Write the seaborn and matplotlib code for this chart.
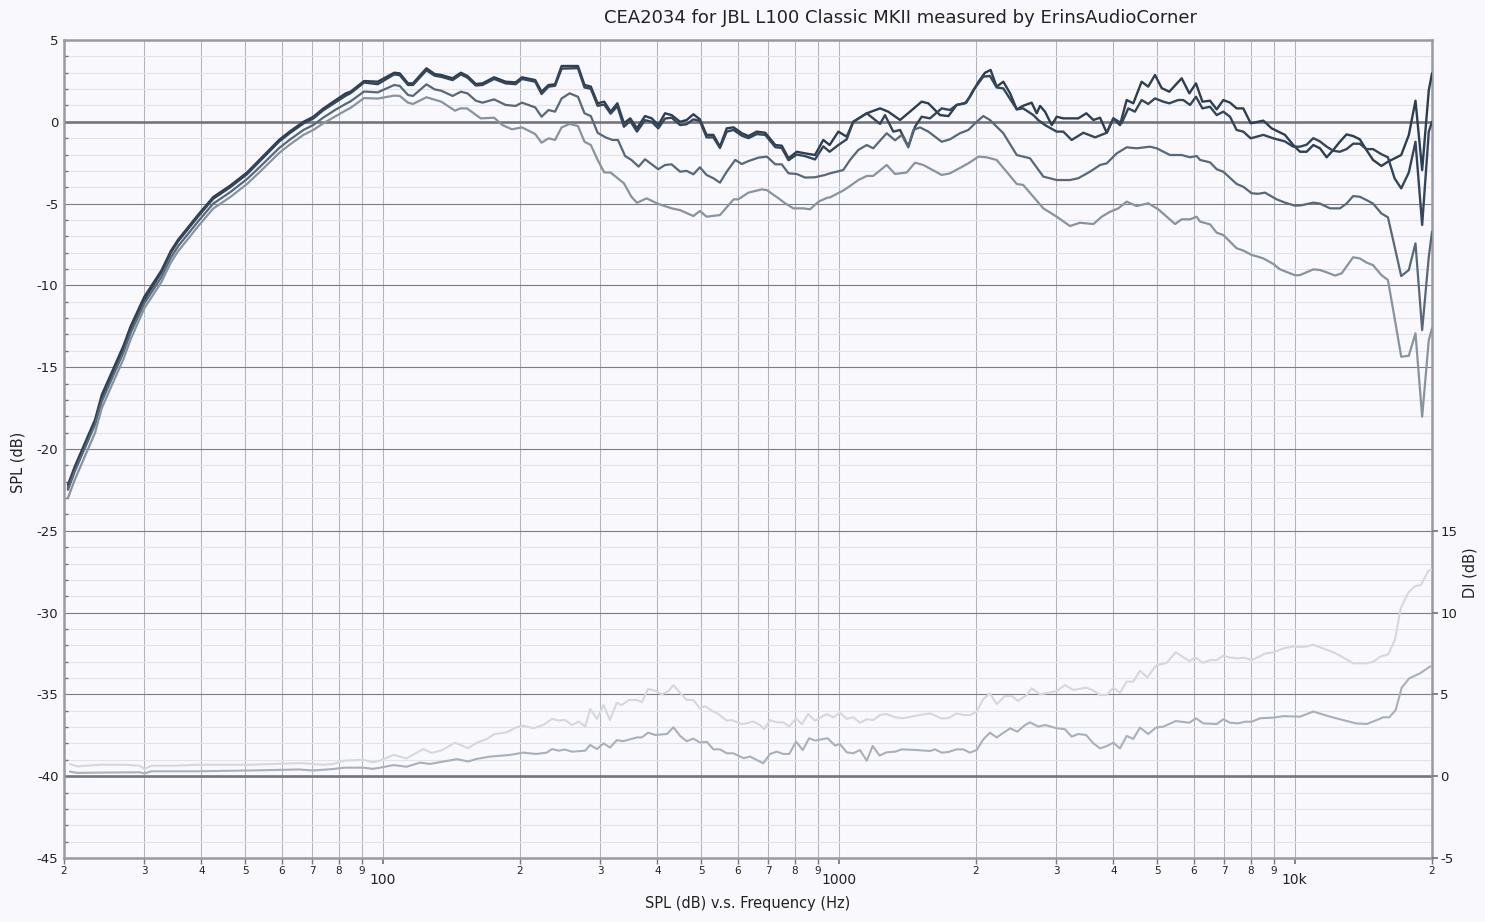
import pandas as pd
import matplotlib
matplotlib.use('Agg')
import matplotlib.pyplot as plt
import seaborn as sns
from matplotlib.ticker import FixedLocator, FixedFormatter

sns.set_theme(style='white')
plt.rcParams['font.family'] = ['DejaVu Sans']
plt.rcParams['axes.unicode_minus'] = False

# (frequency Hz, SPL dB)
on_axis = [
    (20.4, -22.2), (21.1, -21.1), (23.4, -18.2), (24.2, -16.7), (27.0, -13.7), (28.0, -12.5),
    (30.0, -10.7), (32.7, -9.1), (34.3, -7.9), (35.6, -7.2), (37.8, -6.3), (39.6, -5.6),
    (42.5, -4.6), (46.3, -3.9), (50.4, -3.1), (53.8, -2.3), (59.3, -1.1), (62.5, -0.6),
    (67.0, 0.0), (70.4, 0.3), (74.0, 0.8), (78.9, 1.33), (83.0, 1.74), (85.0, 1.84),
    (91.0, 2.49), (97.5, 2.45), (106, 3.0), (109, 2.96), (113.6, 2.35), (116.5, 2.35),
    (124.7, 3.27), (130, 2.92), (134.4, 2.86), (142.3, 2.66), (148.4, 3.0), (153.4, 2.8),
    (160, 2.31), (165.5, 2.35), (175.5, 2.72), (186, 2.45), (195.6, 2.41), (202, 2.72),
    (216, 2.55), (223, 1.84), (231, 2.25), (238.7, 2.29), (246.8, 3.41), (268, 3.41),
    (277, 2.25), (286, 2.15), (296, 1.13), (306, 1.23), (316, 0.62), (327, 1.13),
    (338, -0.09), (349, 0.21), (361, -0.4), (376, 0.35), (389, 0.21), (402, -0.2),
    (416, 0.52), (430, 0.41), (449, 0.0), (464, 0.11), (480, 0.46), (496, 0.15),
    (513, -0.8), (531, -0.8), (549, -1.52), (568, -0.4), (588, -0.34), (613, -0.7),
    (634, -0.87), (661, -0.6), (690, -0.67), (726, -1.42), (750, -1.46), (776, -2.23),
    (809, -1.83), (844, -1.93), (887, -2.03), (925, -1.11), (955, -1.42), (998, -0.6),
    (1041, -0.91), (1076, 0.0), (1152, 0.52), (1232, 0.82), (1284, 0.62), (1363, 0.11),
    (1433, 0.62), (1520, 1.23), (1572, 1.13), (1668, 0.41), (1740, 0.35), (1814, 1.03),
    (1892, 1.13), (1940, 1.53), (2025, 2.45), (2093, 3.0), (2153, 3.17), (2220, 2.15),
    (2296, 2.45), (2376, 1.74), (2457, 0.76), (2538, 0.98), (2649, 1.17), (2717, 0.52),
    (2764, 0.97), (2834, 0.62), (2932, -0.2), (3006, 0.31), (3108, 0.21), (3352, 0.21),
    (3492, 0.52), (3618, 0.11), (3742, 0.25), (3870, -0.67), (4002, 0.21), (4138, -0.2),
    (4280, 1.33), (4426, 1.13), (4616, 2.45), (4772, 2.15), (4938, 2.86), (5108, 2.06),
    (5308, 1.84), (5650, 2.66), (5874, 1.74), (6074, 2.35), (6274, 1.23), (6520, 1.29),
    (6744, 0.76), (6972, 1.33), (7212, 1.17), (7458, 0.82), (7712, 0.82), (8006, -0.09),
    (8534, 0.07), (8900, -0.4), (9520, -0.8), (9926, -1.42), (10270, -1.83), (10620, -1.83),
    (10984, -1.42), (11360, -1.62), (11750, -2.17), (12150, -1.72), (12560, -1.22),
    (12990, -0.77), (13430, -0.87), (13890, -1.07), (14360, -1.72), (14850, -2.33),
    (15490, -2.7), (16010, -2.44), (16560, -2.23), (17120, -2.03), (17790, -0.81),
    (18400, 1.29), (19030, -2.95), (19680, 1.94), (20000, 2.96),
]

listening_window = [
    (20.4, -22.4), (21.1, -21.3), (23.4, -18.4), (24.2, -16.9), (27.0, -13.9), (28.0, -12.7),
    (30.0, -10.9), (32.7, -9.2), (34.3, -8.0), (35.6, -7.3), (37.8, -6.4), (39.6, -5.7),
    (42.5, -4.7), (46.3, -4.0), (50.4, -3.2), (53.8, -2.4), (59.3, -1.2), (62.5, -0.7),
    (67.0, -0.1), (70.4, 0.2), (74.0, 0.7), (78.9, 1.2), (83.0, 1.6), (85.0, 1.75),
    (91.0, 2.4), (97.5, 2.3), (106, 2.9), (109, 2.85), (113.6, 2.25), (116.5, 2.25),
    (124.7, 3.15), (130, 2.82), (134.4, 2.75), (142.3, 2.55), (148.4, 2.9), (153.4, 2.7),
    (160, 2.22), (165.5, 2.25), (175.5, 2.62), (186, 2.35), (195.6, 2.3), (202, 2.62),
    (216, 2.45), (223, 1.7), (231, 2.15), (238.7, 2.2), (246.8, 3.25), (268, 3.28),
    (277, 2.1), (286, 2.02), (296, 0.98), (306, 1.05), (316, 0.5), (327, 0.95),
    (338, -0.3), (349, 0.05), (361, -0.6), (376, 0.1), (389, 0.0), (402, -0.4),
    (416, 0.2), (430, 0.25), (449, -0.2), (464, -0.15), (480, 0.15), (496, 0.05),
    (513, -0.95), (531, -0.95), (549, -1.6), (568, -0.6), (588, -0.5), (613, -0.85),
    (634, -1.0), (661, -0.75), (690, -0.8), (726, -1.55), (750, -1.6), (776, -2.35),
    (809, -2.0), (844, -2.1), (887, -2.3), (925, -1.5), (955, -1.83), (998, -1.42),
    (1041, -1.07), (1076, 0.0), (1152, 0.52), (1190, 0.21), (1232, -0.13), (1263, 0.41),
    (1317, -0.6), (1363, -0.5), (1421, -1.52), (1470, -0.3), (1520, 0.31), (1585, 0.21),
    (1682, 0.82), (1754, 0.72), (1814, 1.03), (1905, 1.17), (1973, 1.94), (2075, 2.76),
    (2146, 2.8), (2220, 2.1), (2296, 2.04), (2457, 0.76), (2538, 0.82), (2672, 0.41),
    (2740, 0.1), (2834, -0.2), (3006, -0.6), (3108, -0.6), (3242, -1.11), (3440, -0.67),
    (3650, -0.95), (3870, -0.67), (4002, 0.21), (4172, -0.09), (4316, 0.82), (4462, 0.62),
    (4616, 1.33), (4772, 1.09), (4938, 1.43), (5150, 1.23), (5308, 1.13), (5552, 1.33),
    (5696, 1.33), (5894, 1.03), (6074, 1.53), (6274, 0.82), (6520, 0.92), (6744, 0.41),
    (6972, 0.62), (7212, 0.31), (7458, -0.5), (7712, -0.6), (8006, -1.01), (8534, -0.8),
    (8974, -1.01), (9520, -1.2), (9926, -1.52), (10270, -1.52), (10620, -1.4),
    (10984, -1.0), (11360, -1.2), (11750, -1.52), (12150, -1.77), (12560, -1.83),
    (12990, -1.67), (13430, -1.34), (13890, -1.34), (14360, -1.67), (14850, -1.67),
    (15490, -1.98), (16010, -2.17), (16560, -3.46), (17120, -4.07), (17790, -3.1),
    (18400, -1.22), (19030, -6.3), (19680, -0.6), (20000, 0.0),
]

early_reflections = [
    (20.4, -22.5), (21.1, -21.4), (23.4, -18.5), (24.2, -17.1), (27.0, -14.1), (28.0, -12.9),
    (30.0, -11.1), (32.7, -9.5), (34.3, -8.3), (35.6, -7.6), (37.8, -6.7), (39.6, -6.0),
    (42.5, -5.0), (46.3, -4.3), (50.4, -3.5), (53.8, -2.75), (59.3, -1.6), (62.5, -1.1),
    (67.0, -0.5), (70.4, -0.2), (74.0, 0.25), (78.9, 0.75), (83.0, 1.1), (85.0, 1.25),
    (91.0, 1.85), (97.5, 1.8), (106, 2.25), (109, 2.19), (113.6, 1.64), (116.5, 1.58),
    (124.7, 2.29), (130, 1.98), (134.4, 1.9), (142.3, 1.58), (148.4, 1.84), (153.4, 1.74),
    (160, 1.29), (165.5, 1.17), (175.5, 1.37), (186, 1.03), (195.6, 0.97), (202, 1.17),
    (216, 0.88), (223, 0.31), (231, 0.72), (238.7, 0.62), (246.8, 1.43), (257, 1.74),
    (268, 1.53), (277, 0.52), (286, 0.35), (296, -0.67), (308, -0.95), (319, -1.11),
    (328, -1.11), (340, -2.09), (351, -2.33), (364, -2.74), (376, -2.29), (402, -2.9),
    (416, -2.64), (430, -2.6), (449, -3.05), (464, -3.0), (480, -3.21), (496, -2.78),
    (513, -3.25), (531, -3.45), (549, -3.72), (568, -3.05), (593, -2.33), (613, -2.58),
    (634, -2.4), (667, -2.19), (696, -2.13), (726, -2.6), (750, -2.6), (776, -3.15),
    (809, -3.19), (844, -3.41), (887, -3.39), (933, -3.25), (957, -3.15), (1023, -2.95),
    (1059, -2.33), (1104, -1.72), (1152, -1.42), (1190, -1.62), (1274, -0.7), (1329, -1.13),
    (1375, -0.8), (1421, -1.56), (1457, -0.5), (1507, -0.34), (1572, -0.6), (1682, -1.22),
    (1754, -1.07), (1844, -0.7), (1924, -0.5), (2007, 0.0), (2075, 0.35), (2146, 0.11),
    (2296, -0.7), (2457, -2.03), (2627, -2.23), (2810, -3.35), (3006, -3.56), (3214, -3.56),
    (3352, -3.45), (3556, -3.05), (3742, -2.64), (3870, -2.54), (4070, -1.93), (4280, -1.56),
    (4500, -1.62), (4814, -1.52), (4980, -1.62), (5326, -2.03), (5650, -2.03), (5894, -2.17),
    (6094, -2.09), (6198, -2.33), (6520, -2.48), (6744, -2.9), (6972, -3.05), (7458, -3.8),
    (7712, -3.97), (8046, -4.37), (8318, -4.4), (8606, -4.33), (9128, -4.74), (9520, -4.94),
    (10016, -5.13), (10356, -5.1), (10984, -4.94), (11360, -5.0), (11950, -5.29),
    (12568, -5.29), (12990, -5.0), (13430, -4.54), (13890, -4.58), (14360, -4.78),
    (14850, -5.0), (15490, -5.6), (16010, -5.84), (16560, -7.63), (17120, -9.43),
    (17790, -9.06), (18400, -7.43), (19030, -12.73), (19680, -8.25), (20000, -6.72),
]

sound_power = [
    (20.4, -23.0), (21.1, -21.9), (23.4, -19.0), (24.2, -17.5), (27.0, -14.5), (28.0, -13.3),
    (30.0, -11.4), (32.7, -9.8), (34.3, -8.6), (35.6, -7.9), (37.8, -7.0), (39.6, -6.3),
    (42.5, -5.3), (46.3, -4.6), (50.4, -3.8), (53.8, -3.05), (59.3, -1.9), (62.5, -1.4),
    (67.0, -0.8), (70.4, -0.5), (74.0, -0.1), (78.9, 0.35), (83.0, 0.7), (85.0, 0.85),
    (91.0, 1.45), (97.5, 1.42), (106, 1.6), (109, 1.58), (113.6, 1.17), (116.5, 1.09),
    (124.7, 1.5), (134.4, 1.23), (144, 0.68), (148, 0.82), (153, 0.82), (164, 0.21),
    (175.5, 0.25), (183, -0.2), (192, -0.46), (202, -0.34), (216, -0.75), (223, -1.28),
    (231, -1.01), (238.7, -1.11), (246.8, -0.34), (257, -0.13), (268, -0.26), (277, -1.22),
    (286, -1.42), (296, -2.33), (306, -3.09), (316, -3.1), (338, -3.76), (351, -4.58),
    (361, -4.95), (379, -4.68), (402, -5.02), (430, -5.29), (449, -5.4), (480, -5.76),
    (496, -5.45), (513, -5.8), (549, -5.7), (588, -4.74), (602, -4.74), (634, -4.33),
    (678, -4.13), (696, -4.18), (738, -4.68), (763, -4.98), (795, -5.29), (837, -5.29),
    (865, -5.35), (903, -4.88), (944, -4.64), (957, -4.62), (1023, -4.2), (1059, -3.92),
    (1104, -3.56), (1152, -3.31), (1190, -3.31), (1274, -2.64), (1329, -3.19), (1409, -3.1),
    (1470, -2.5), (1533, -2.64), (1682, -3.25), (1754, -3.15), (1924, -2.54), (2025, -2.13),
    (2109, -2.17), (2220, -2.33), (2457, -3.8), (2538, -3.86), (2810, -5.29), (3006, -5.8),
    (3214, -6.37), (3382, -6.17), (3618, -6.25), (3774, -5.8), (3934, -5.5), (4104, -5.29),
    (4280, -4.88), (4500, -5.15), (4772, -4.98), (5022, -5.35), (5464, -6.25), (5650, -5.96),
    (5894, -5.96), (6094, -5.8), (6198, -6.1), (6520, -6.27), (6744, -6.78), (6972, -6.92),
    (7458, -7.73), (7712, -7.87), (8046, -8.14), (8318, -8.25), (8534, -8.35), (8974, -8.69),
    (9284, -9.02), (10016, -9.38), (10270, -9.37), (10984, -9.02), (11360, -9.06),
    (11750, -9.2), (12256, -9.4), (12676, -9.26), (13430, -8.28), (13890, -8.35),
    (14360, -8.6), (14850, -8.76), (15490, -9.37), (16010, -9.67), (16560, -12.0),
    (17120, -14.36), (17790, -14.3), (18400, -12.93), (19030, -18.03), (19680, -13.34),
    (20000, -12.63),
]

# directivity index, right axis
sp_di = [
    (20.6, 0.75), (21.4, 0.6), (24.0, 0.7), (27.4, 0.7), (29.3, 0.64), (30.0, 0.44),
    (31.1, 0.64), (34.8, 0.64), (39.3, 0.7), (51.2, 0.7), (65.7, 0.8), (70.3, 0.75),
    (74.0, 0.7), (77.9, 0.75), (82.2, 0.95), (90.8, 1.0), (95.1, 0.85), (98.6, 0.95),
    (105.5, 1.3), (112.9, 1.09), (122.7, 1.66), (128, 1.42), (134.7, 1.58), (144, 2.05),
    (154, 1.71), (160.8, 2.05), (169, 2.27), (176, 2.58), (187, 2.68), (196.6, 2.99),
    (203, 3.09), (214, 2.93), (225, 3.13), (235, 3.5), (243, 3.4), (251, 3.44), (260, 3.13),
    (269, 3.34), (278, 3.03), (285, 4.11), (295, 3.5), (305, 4.35), (315, 3.44), (326, 4.49),
    (334, 4.35), (347, 4.66), (361, 4.66), (370, 4.52), (382, 5.33), (396, 5.23), (409, 5.0),
    (423, 5.2), (434, 5.57), (449, 5.09), (464, 4.66), (480, 4.66), (496, 4.15), (509, 4.28),
    (531, 3.95), (544, 3.81), (568, 3.39), (582, 3.43), (613, 3.19), (628, 3.23), (650, 3.34),
    (672, 3.13), (686, 2.87), (707, 3.43), (731, 3.29), (756, 3.29), (779, 3.03), (806, 3.54),
    (830, 3.17), (857, 3.8), (887, 3.39), (941, 3.8), (973, 3.6), (1006, 3.88), (1041, 3.5),
    (1076, 3.6), (1113, 3.27), (1152, 3.48), (1190, 3.43), (1232, 3.74), (1274, 3.8),
    (1329, 3.6), (1381, 3.54), (1480, 3.7), (1585, 3.84), (1682, 3.53), (1740, 3.55),
    (1814, 3.84), (1876, 3.74), (1940, 3.74), (2007, 3.94), (2075, 4.72), (2146, 5.06),
    (2220, 4.41), (2316, 4.9), (2396, 4.9), (2473, 4.6), (2583, 4.96), (2649, 5.37),
    (2764, 5.0), (2882, 5.1), (3006, 5.2), (3134, 5.57), (3268, 5.27), (3492, 5.41),
    (3618, 5.23), (3742, 4.96), (3870, 4.96), (4002, 5.41), (4138, 5.1), (4280, 5.78),
    (4426, 5.78), (4577, 6.45), (4750, 6.04), (4962, 6.76), (5238, 6.93), (5482, 7.57),
    (5680, 7.3), (5874, 7.04), (6046, 7.25), (6302, 6.93), (6520, 7.1), (6744, 7.1),
    (6972, 7.37), (7212, 7.25), (7520, 7.2), (7740, 7.25), (8046, 7.1), (8390, 7.33),
    (8606, 7.5), (8974, 7.57), (9440, 7.81), (9926, 7.93), (10270, 7.89), (10624, 7.93),
    (10984, 8.03), (11552, 7.81), (12152, 7.57), (12568, 7.37), (13442, 6.9), (14386, 6.9),
    (14874, 7.0), (15382, 7.3), (16042, 7.45), (16594, 8.37), (17078, 10.26), (17744, 11.22),
    (18356, 11.62), (18910, 11.68), (19630, 12.56), (19950, 12.6),
]

er_di = [
    (20.6, 0.28), (21.4, 0.2), (24.0, 0.22), (29.3, 0.24), (30.0, 0.17), (31.1, 0.3),
    (39.3, 0.3), (51.2, 0.35), (65.7, 0.41), (70.3, 0.35), (77.9, 0.44), (82.2, 0.52),
    (90.8, 0.52), (95.1, 0.45), (98.6, 0.52), (105.5, 0.68), (112.9, 0.58), (120.7, 0.83),
    (127, 0.75), (136, 0.9), (145.5, 1.04), (154, 0.9), (160.8, 1.06), (172, 1.2), (190, 1.3),
    (203, 1.44), (217, 1.36), (229, 1.44), (235, 1.66), (243, 1.56), (251, 1.63), (260, 1.5),
    (278, 1.56), (285, 1.91), (295, 1.66), (305, 2.01), (315, 1.75), (326, 2.2), (337, 2.14),
    (361, 2.37), (370, 2.37), (382, 2.66), (396, 2.52), (420, 2.58), (434, 2.99), (449, 2.46),
    (464, 2.14), (480, 2.3), (496, 2.06), (514, 2.1), (531, 1.64), (549, 1.64), (568, 1.4),
    (587, 1.4), (619, 1.1), (639, 1.2), (683, 0.79), (707, 1.36), (731, 1.5), (756, 1.36),
    (779, 1.36), (806, 2.11), (834, 1.6), (861, 2.32), (887, 2.18), (945, 2.32), (982, 1.87),
    (1006, 1.97), (1041, 1.46), (1076, 1.4), (1113, 1.6), (1152, 0.95), (1187, 1.85),
    (1229, 1.26), (1274, 1.46), (1329, 1.5), (1375, 1.64), (1480, 1.6), (1585, 1.54),
    (1626, 1.64), (1682, 1.44), (1740, 1.48), (1814, 1.64), (1876, 1.64), (1940, 1.44),
    (2007, 1.6), (2075, 2.25), (2146, 2.66), (2220, 2.37), (2376, 2.93), (2464, 2.72),
    (2562, 3.13), (2627, 3.29), (2740, 3.03), (2834, 3.13), (3006, 2.93), (3134, 2.87),
    (3242, 2.42), (3352, 2.58), (3486, 2.52), (3618, 2.01), (3742, 1.7), (3870, 1.84),
    (4002, 2.05), (4138, 1.7), (4280, 2.46), (4426, 2.28), (4577, 2.97), (4772, 2.58),
    (4962, 2.97), (5150, 3.03), (5482, 3.37), (5874, 3.27), (6074, 3.54), (6302, 3.23),
    (6744, 3.19), (6972, 3.48), (7212, 3.27), (7520, 3.23), (7780, 3.33), (8046, 3.33),
    (8390, 3.54), (8974, 3.58), (9440, 3.67), (10270, 3.64), (10984, 3.95), (11950, 3.64),
    (12780, 3.43), (13610, 3.23), (14386, 3.19), (15130, 3.43), (15630, 3.6), (16120, 3.6),
    (16650, 4.05), (17160, 5.41), (17830, 5.98), (18826, 6.29), (19800, 6.7), (19950, 6.74),
]

title = 'CEA2034 for JBL L100 Classic MKII measured by ErinsAudioCorner'
decade_ticks = [100, 1000, 10000]
decade_labels = ['100', '1000', '10k']
minor_ticks = [m * d for d in (10, 100, 1000) for m in range(2, 10)] + [20000]
minor_labels = [str(t)[0] for t in minor_ticks]

BG = '#f8f8fd'
W, H = 1485, 922

fig = plt.figure(figsize=(W / 100, H / 100), dpi=100, facecolor=BG)
ax = fig.add_axes([64 / W, 1 - 858 / H, (1432 - 64) / W, (858 - 40) / H])
ax.set_facecolor(BG)
ax.set_xscale('log')

spl_curves = [
    (on_axis, '#2d3e50', 1.7),
    (listening_window, '#34465a', 1.7),
    (early_reflections, '#56687a', 1.6),
    (sound_power, '#87949f', 1.6),
]
for pts, col, lw in spl_curves:
    d = pd.DataFrame(pts, columns=['Frequency', 'SPL'])
    sns.lineplot(data=d, x='Frequency', y='SPL', ax=ax, color=col, lw=lw,
                 estimator=None, zorder=3)

ax.set_xlim(20, 20000)
ax.set_ylim(-45, 5)

# x ticks: decades bigger and lower, the rest single digits
ax.xaxis.set_major_locator(FixedLocator(decade_ticks))
ax.xaxis.set_major_formatter(FixedFormatter(decade_labels))
ax.xaxis.set_minor_locator(FixedLocator(minor_ticks))
ax.xaxis.set_minor_formatter(FixedFormatter(minor_labels))
ax.tick_params(axis='x', which='major', labelsize=10, length=4, pad=7,
               color='#777', labelcolor='#222', bottom=True)
ax.tick_params(axis='x', which='minor', labelsize=7.5, length=4, pad=1.5,
               color='#777', labelcolor='#222', bottom=True)

ax.set_yticks(range(-45, 6, 5))
ax.set_yticks(range(-45, 6, 1), minor=True)
ax.tick_params(axis='y', which='major', labelsize=9.5, length=0, pad=4, labelcolor='#222')
ax.tick_params(axis='y', which='minor', length=3, direction='in', color='#777', left=True)

ax.grid(which='minor', axis='y', color='#e2e2ea', lw=0.8)
ax.grid(which='major', axis='y', color='#7c7c86', lw=0.8)
ax.grid(which='both', axis='x', color='#b4b4be', lw=0.75)
ax.set_axisbelow(True)
for yv in (0, -40):
    ax.axhline(yv, color='#75757f', lw=1.9, zorder=2)

for s in ax.spines.values():
    s.set_color('#9a9aa4')
    s.set_linewidth(1.8)
ax.set_xlabel('')
ax.set_ylabel('')

# DI on the right axis
ax2 = ax.twinx()
for pts, col in [(sp_di, '#d5d9db'), (er_di, '#a9b0ba')]:
    d = pd.DataFrame(pts, columns=['Frequency', 'DI'])
    sns.lineplot(data=d, x='Frequency', y='DI', ax=ax2, color=col, lw=1.5,
                 estimator=None, zorder=3)
ax2.set_ylim(-5, 45)
ax2.set_yticks([-5, 0, 5, 10, 15])
ax2.tick_params(axis='y', labelsize=9.5, length=4, color='#777', labelcolor='#222', pad=2)
ax2.set_ylabel('')
ax2.set_xlabel('')
for s in ax2.spines.values():
    s.set_visible(False)
ax2.set_xlim(20, 20000)

fig.text(900 / W, 1 - 18 / H, title, ha='center', va='center', fontsize=13, color='#222')
fig.text(748 / W, 1 - 903 / H, 'SPL (dB) v.s. Frequency (Hz)', ha='center', va='center',
         fontsize=10.5, color='#222')
fig.text(18 / W, 1 - 462 / H, 'SPL (dB)', rotation=90, ha='center', va='center',
         fontsize=10.5, color='#222')
fig.text(1470 / W, 1 - 573 / H, 'DI (dB)', rotation=90, ha='center', va='center',
         fontsize=10.5, color='#222')

fig.savefig('out.png', dpi=100, facecolor=BG)
